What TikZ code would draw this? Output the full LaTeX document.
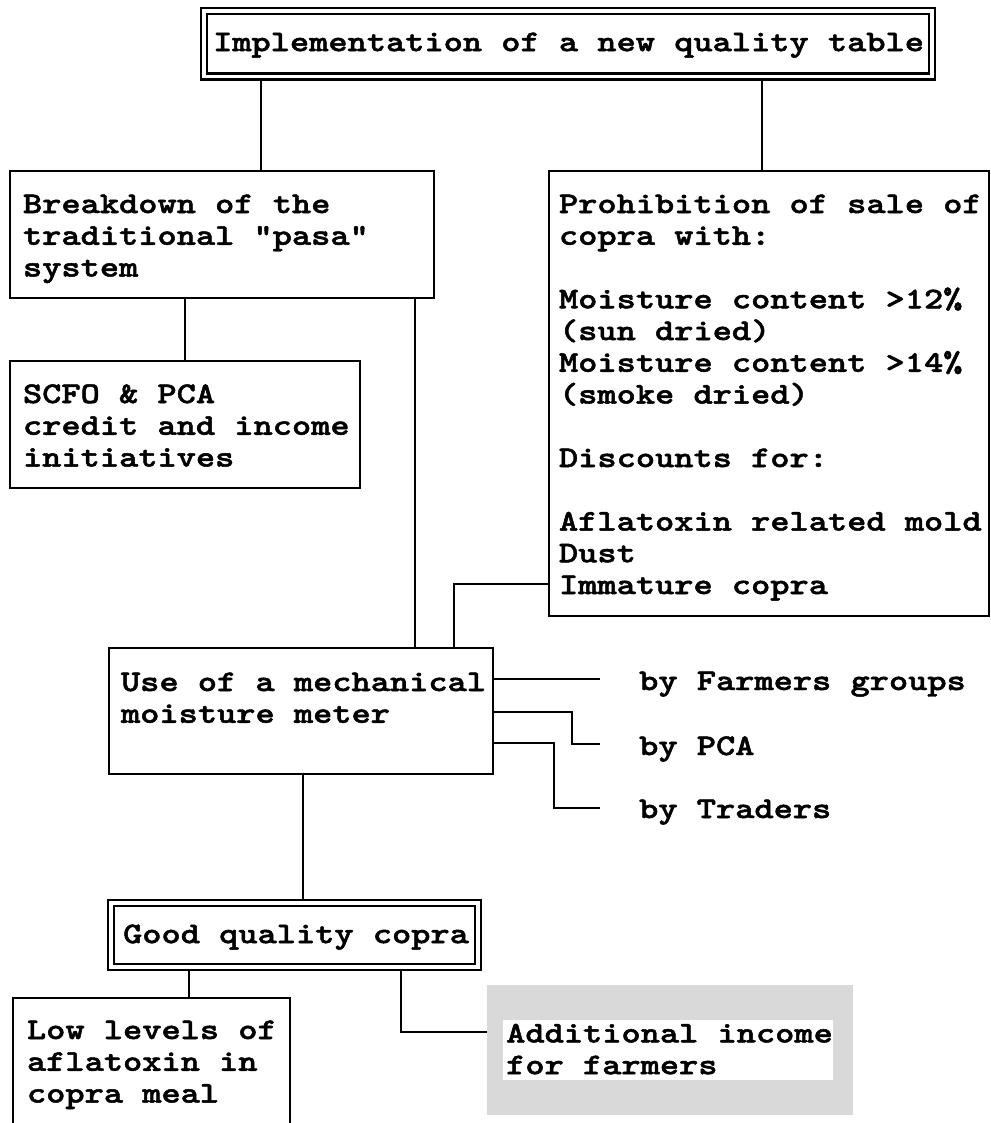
\documentclass[tikz,border=0pt]{standalone}
\usepackage{fontspec}
\newfontfamily\cour[FakeStretch=1.22,FakeBold=1.6]{lmmonolt10-bold.otf}
\newcommand\bx[3]{\parbox[c][#2][t]{#1}{\begin{tabular}[t]{@{}l@{}}#3\end{tabular}}}
\pgfdeclarelayer{paper}
\pgfdeclarelayer{lines}
\pgfsetlayers{paper,lines,main}
\tikzset{
  txt/.style={font=\cour\fontsize{30}{31.75}\selectfont},
  box/.style={txt, draw, fill=white, line width=2pt, inner sep=0pt, anchor=north west},
  dbox/.style={box, double, double distance=3.8pt, line width=2.2pt},
  bylabel/.style={txt, inner xsep=39pt, inner ysep=0pt, anchor=base west},
  conn/.style={line width=1.8pt}
}
\begin{document}
\begin{tikzpicture}[x=1pt,y=-1pt]
\useasboundingbox (0,0) rectangle (990,1123);
\begin{pgfonlayer}{paper}
\fill[white] (0,0) rectangle (990,1123);
\end{pgfonlayer}
\clip (0,0) rectangle (990,1123);

\node[dbox, inner xsep=9pt, inner ysep=17.8pt] (top) at (203,10)
  {\bx{710pt}{29.9pt}{Implementation of a new quality table}};
\node[box, inner xsep=13pt, inner ysep=19.8pt] (bd) at (9,170)
  {\bx{398pt}{87.4pt}{Breakdown of the\\traditional "pasa"\\system}};
\node[box, inner xsep=13pt, inner ysep=19.8pt] (sc) at (9,360)
  {\bx{324pt}{87.4pt}{SCFO \& PCA\\credit and income\\initiatives}};
\node[box, inner xsep=10pt, inner ysep=19.8pt] (pr) at (548,170)
  {\bx{420pt}{405.4pt}{Prohibition of sale of\\copra with:\\ \\Moisture content >12\%\\(sun dried)\\Moisture content >14\%\\(smoke dried)\\ \\Discounts for:\\ \\Aflatoxin related mold\\Dust\\Immature copra}};
\node[box, inner xsep=12pt, inner ysep=20.8pt] (use) at (108,647)
  {\bx{360pt}{84.4pt}{Use of a mechanical\\moisture meter}};
\node[bylabel] (fg) at (600,690) {by Farmers groups};
\node[bylabel] (pca) at (600,755) {by PCA};
\node[bylabel] (tr) at (600,818) {by Traders};
\node[dbox, inner xsep=12pt, inner ysep=18.3pt] (gq) at (110,901.5)
  {\bx{342.5pt}{27.9pt}{Good quality copra}};
\node[box, inner xsep=14pt, inner ysep=18.8pt] (low) at (12,997)
  {\bx{249pt}{112.4pt}{Low levels of\\aflatoxin in\\copra meal}};
\node[fill=black!15, anchor=north west, minimum width=366pt, minimum height=130pt, inner sep=0pt] (ai) at (487,985) {};
\node[txt, fill=white, anchor=north west, inner xsep=3pt, inner ysep=0pt] (ait) at (503,1020)
  {\bx{324pt}{60pt}{Additional income\\for farmers}};

\coordinate (xa) at (261,0);
\coordinate (xb) at (762,0);
\coordinate (xc) at (185,0);
\coordinate (xd) at (415,0);
\coordinate (xe) at (454,0);
\coordinate (xg) at (303,0);
\coordinate (xh) at (189,0);
\coordinate (xi) at (401,0);
\coordinate (ya) at (0,584);
\coordinate (yf) at (0,679);
\coordinate (yp1) at (0,712);
\coordinate (yp2) at (0,744);
\coordinate (yt1) at (0,743);
\coordinate (yt2) at (0,808);
\coordinate (yi) at (0,1032);

\begin{pgfonlayer}{lines}
\draw[conn] (top.south -| xa) -- (bd.north -| xa);
\draw[conn] (top.south -| xb) -- (pr.north -| xb);
\draw[conn] (bd.south -| xc) -- (sc.north -| xc);
\draw[conn] (bd.south -| xd) -- (use.north -| xd);
\draw[conn] (use.north -| xe) |- (pr.west |- ya);
\draw[conn] (use.east |- yf) -- (fg.west |- yf);
\draw[conn] (use.east |- yp1) -- ++(78,0) |- (pca.west |- yp2);
\draw[conn] (use.east |- yt1) -- ++(60,0) |- (tr.west |- yt2);
\draw[conn] (use.south -| xg) -- (gq.north -| xg);
\draw[conn] (gq.south -| xh) -- (low.north -| xh);
\draw[conn] (gq.south -| xi) |- (ai.west |- yi);
\end{pgfonlayer}
\end{tikzpicture}
\end{document}
